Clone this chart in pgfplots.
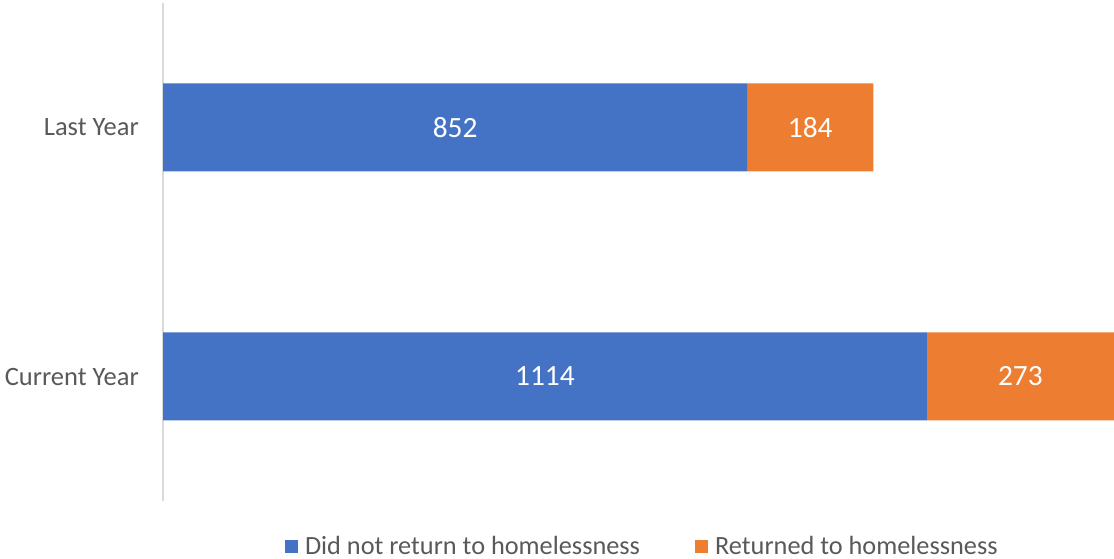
\documentclass[border=0pt]{standalone}
\usepackage{fontspec}
\setmainfont{Carlito}
\usepackage{pgfplots}
\pgfplotsset{compat=1.18}
\definecolor{cblue}{HTML}{4472C4}
\definecolor{corange}{HTML}{ED7D31}
\definecolor{ctext}{HTML}{595959}
\definecolor{caxis}{HTML}{D9D9D9}
\begin{document}
\begin{tikzpicture}
\useasboundingbox (0,0) rectangle (1114bp,559bp);
\begin{axis}[
  at={(163bp,58bp)}, anchor=south west,
  scale only axis, width=951bp, height=498bp,
  xbar stacked, bar width=88bp,
  xmin=0, xmax=1387, ymin=-0.5, ymax=1.5,
  ytick={0,1}, yticklabels={Current Year, Last Year},
  xtick=\empty,
  axis x line=none,
  axis y line*=left,
  y axis line style={draw=caxis, line width=1.2bp, -},
  major tick length=0pt,
  yticklabel style={font=\fontsize{26.6}{30}\selectfont, text=ctext, inner sep=0pt, anchor=east, xshift=-24bp},
  legend columns=2,
  legend style={at={(axis description cs:0.1283,-0.0904)}, anchor=west,
    draw=none, fill=none, inner sep=0pt, outer sep=0pt,
    font=\fontsize{26.4}{30}\selectfont, text=ctext,
    nodes={inner sep=0pt},
    /tikz/every odd column/.append style={column sep=7bp},
    /tikz/every even column/.append style={column sep=55bp}},
  legend image code/.code={\fill[#1] (0bp,-6.5bp) rectangle (13bp,6.5bp);},
]
\addplot[fill=cblue, draw=none] coordinates {(1114,0) (852,1)};
\addplot[fill=corange, draw=none] coordinates {(273,0) (184,1)};
\legend{Did not return to homelessness, Returned to homelessness}
\end{axis}
\begin{axis}[
  at={(163bp,58bp)}, anchor=south west,
  scale only axis, width=951bp, height=498bp,
  xmin=0, xmax=1387, ymin=-0.5, ymax=1.5,
  hide axis, clip=false,
]
\addplot[only marks, mark=*, mark size=0pt, mark options={draw=none, fill=none},
  nodes near coords, point meta=explicit symbolic,
  every node near coord/.append style={anchor=center, text=white, font=\fontsize{29.5}{32}\selectfont}]
  coordinates {(426,1) [852] (557,0) [1114] (944,1) [184] (1250.5,0) [273]};
\end{axis}
\end{tikzpicture}
\end{document}
